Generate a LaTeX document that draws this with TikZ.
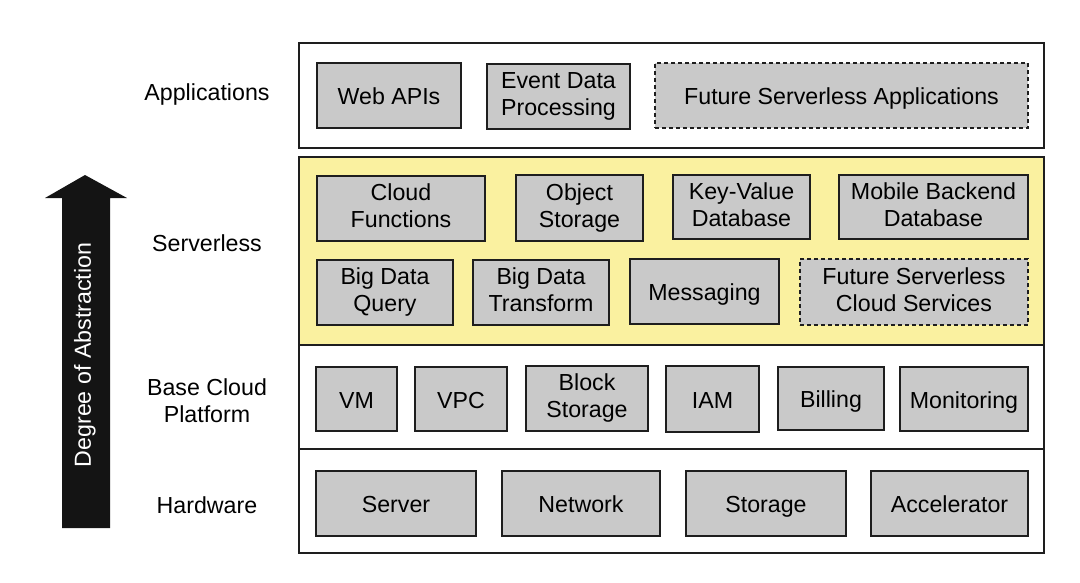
\documentclass[tikz,border=0pt]{standalone}
\usepackage{fontspec}
\setmainfont{Liberation Sans}
\definecolor{boxgray}{RGB}{201,201,201}
\definecolor{layeryellow}{RGB}{250,241,160}
\definecolor{edge}{RGB}{30,30,30}
\newcommand{\topstrut}{\rule{0pt}{24.2pt}}
\newcommand{\botstrut}{\rule[-5.5pt]{0pt}{5.5pt}}
\begin{document}
\begin{tikzpicture}[x=1pt,y=-1pt,
  every node/.style={font=\fontsize{23.2}{27}\selectfont, inner sep=0pt, align=center,
    execute at begin node=\topstrut, execute at end node=\botstrut},
  layer/.style={draw=edge, line width=1.8pt, rectangle, minimum width=745pt},
  item/.style={draw=edge, line width=2pt, fill=boxgray, rectangle},
  future/.style={item, dash pattern=on 4pt off 3pt},
  side/.style={text=black}]
\useasboundingbox (0,0) rectangle (1080,582);
% layers
\node[layer, minimum height=105pt] (lapp) at (671.5,95.5) {};
\node[layer, fill=layeryellow, minimum height=188pt] (lsrv) at (671.5,251) {};
\node[layer, minimum height=104pt] (lbase) at (671.5,397) {};
\node[layer, minimum height=104pt] (lhw) at (671.5,501) {};
% side labels
\node[side] (tapp) at (207,91.5) {Applications};
\node[side] (tsrv) at (207,242.5) {Serverless};
\node[side] (tbase) at (207,403) {Base Cloud\\Platform};
\node[side] (thw) at (207,504.5) {Hardware};
% applications
\node[item, minimum width=144pt, minimum height=65pt] (webapis) at (389,95.5) {Web APIs};
\node[item, minimum width=143pt, minimum height=65pt] (eventdata) at (558.5,96.5) {Event Data\\Processing};
\node[future, minimum width=373pt, minimum height=65pt] (futapps) at (841.5,95.5) {Future Serverless Applications};
% serverless
\node[item, minimum width=168pt, minimum height=65pt] (cloudfn) at (401,208.5) {Cloud\\Functions};
\node[item, minimum width=127pt, minimum height=66pt] (objstore) at (579.5,208) {Object\\Storage};
\node[item, minimum width=137pt, minimum height=64pt] (kvdb) at (741.5,207) {Key-Value\\Database};
\node[item, minimum width=189pt, minimum height=64pt] (mobile) at (933.5,207) {Mobile Backend\\Database};
\node[item, minimum width=136pt, minimum height=65pt] (bdq) at (385,292.5) {Big Data\\Query};
\node[item, minimum width=136pt, minimum height=65pt] (bdt) at (541,292.5) {Big Data\\Transform};
\node[item, minimum width=149pt, minimum height=65pt] (msg) at (704.5,291.5) {Messaging};
\node[future, minimum width=228pt, minimum height=66pt] (futsvc) at (914,292) {Future Serverless\\Cloud Services};
% base cloud platform
\node[item, minimum width=81pt, minimum height=64pt] (vm) at (356.5,399) {VM};
\node[item, minimum width=92pt, minimum height=64pt] (vpc) at (461,399) {VPC};
\node[item, minimum width=122pt, minimum height=65pt] (block) at (587,398.5) {Block\\Storage};
\node[item, minimum width=93pt, minimum height=66pt] (iam) at (712.5,399) {IAM};
\node[item, minimum width=106pt, minimum height=63pt] (billing) at (831,398.5) {Billing};
\node[item, minimum width=128pt, minimum height=64pt] (monitor) at (964,399) {Monitoring};
% hardware
\node[item, minimum width=160pt, minimum height=65pt] (server) at (396,503.5) {Server};
\node[item, minimum width=158pt, minimum height=65pt] (network) at (581,503.5) {Network};
\node[item, minimum width=160pt, minimum height=65pt] (storage) at (766,503.5) {Storage};
\node[item, minimum width=157pt, minimum height=65pt] (accel) at (949.5,503.5) {Accelerator};
% abstraction arrow
\fill[black!92] (85,175) -- (127,198) -- (110,198) -- (110,528) -- (62,528) -- (62,198) -- (45,198) -- cycle;
\node[text=white, rotate=90] (abstr) at (81.5,355) {Degree of Abstraction};
\end{tikzpicture}
\end{document}
